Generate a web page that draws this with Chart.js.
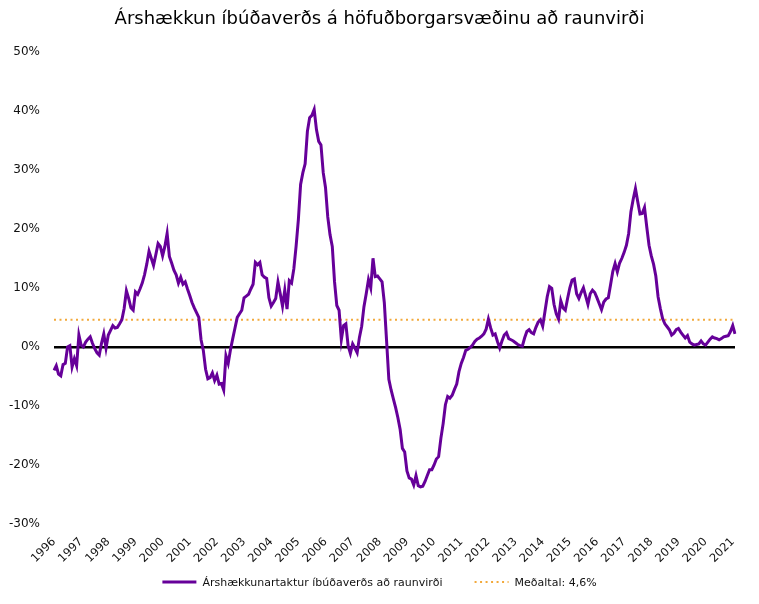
<!DOCTYPE html>
<html>
<head>
<meta charset="utf-8">
<script src="https://cdn.jsdelivr.net/npm/chart.js@4/dist/chart.umd.min.js"></script>
<style>
  html, body { margin: 0; padding: 0; background: #fff; }
  #wrap { width: 759px; height: 604px; }
</style>
</head>
<body>
<div id="wrap"><canvas id="chart"></canvas></div>
<script>
// Years shown on the x axis (one tick per January)
const years = ['1996','1997','1998','1999','2000','2001','2002','2003','2004','2005','2006','2007','2008',
  '2009','2010','2011','2012','2013','2014','2015','2016','2017','2018','2019','2020','2021'];

const growth = [
  -4.0, -3.2, -4.6, -4.9, -3.0, -2.8, 0.0, 0.2, -3.4, -2.0, -3.2, 2.0,        // 1996
  0.3, 0.0, 0.8, 1.3, 1.7, 0.6, -0.3, -1.0, -1.4, 0.6, 2.2, -0.2,             // 1997
  2.0, 2.8, 3.6, 3.2, 3.3, 3.9, 4.6, 6.5, 9.5, 8.2, 6.6, 6.2,                 // 1998
  9.3, 8.9, 9.8, 10.8, 12.2, 14.0, 16.2, 15.0, 13.8, 15.6, 17.5, 17.0,        // 1999
  15.4, 17.0, 19.2, 15.3, 14.2, 13.0, 12.2, 10.8, 11.8, 10.6, 11.0, 9.8,      // 2000
  8.7, 7.5, 6.6, 5.8, 5.0, 1.2, -0.6, -3.8, -5.4, -5.2, -4.4, -5.7,           // 2001
  -4.8, -6.3, -6.2, -7.3, -1.5, -2.8, -0.5, 1.4, 3.2, 5.0, 5.6, 6.2,          // 2002
  8.3, 8.6, 8.9, 9.8, 10.6, 14.3, 13.9, 14.3, 12.2, 11.8, 11.6, 8.3,          // 2003
  6.9, 7.5, 8.2, 11.0, 9.0, 6.9, 9.6, 6.4, 11.2, 10.8, 13.2, 17.0,            // 2004
  21.5, 27.5, 29.5, 31.0, 36.5, 38.8, 39.2, 40.2, 36.8, 34.8, 34.2, 29.5,     // 2005
  27.0, 22.0, 19.0, 17.0, 11.0, 7.0, 6.2, 1.2, 3.6, 3.9, 0.2, -1.1,           // 2006
  0.5, -0.2, -1.0, 1.6, 3.5, 6.8, 9.0, 11.4, 10.0, 15.0, 11.9, 12.0,          // 2007
  11.5, 11.0, 7.5, 1.0, -5.5, -7.3, -8.8, -10.3, -12.0, -14.0, -17.2, -17.8,  // 2008
  -21.0, -22.2, -22.4, -23.4, -21.8, -23.5, -23.7, -23.6, -22.8, -21.8, -20.8, -20.8, // 2009
  -20.0, -19.0, -18.6, -15.5, -13.0, -9.8, -8.4, -8.7, -8.2, -7.2, -6.3, -4.2, // 2010
  -2.8, -1.8, -0.6, -0.4, -0.1, 0.3, 0.9, 1.3, 1.5, 1.8, 2.2, 3.0,            // 2011
  4.7, 3.2, 2.0, 2.2, 0.9, -0.2, 1.0, 2.0, 2.4, 1.4, 1.2, 1.0,                // 2012
  0.7, 0.4, 0.2, 0.1, 1.5, 2.6, 2.9, 2.4, 2.2, 3.3, 4.2, 4.6,                 // 2013
  3.5, 6.0, 8.5, 10.2, 9.9, 7.2, 5.6, 4.7, 7.8, 6.6, 6.2, 8.2,                // 2014
  10.0, 11.3, 11.5, 9.0, 8.2, 9.2, 10.0, 8.6, 7.2, 9.0, 9.6, 9.2,             // 2015
  8.3, 7.3, 6.3, 7.6, 8.1, 8.3, 10.5, 12.8, 14.1, 12.7, 14.2, 15.0,           // 2016
  16.0, 17.2, 19.2, 22.9, 25.0, 26.8, 24.6, 22.5, 22.6, 23.6, 20.3, 17.2,     // 2017
  15.4, 14.0, 12.0, 8.5, 6.5, 4.8, 3.9, 3.4, 2.9, 2.0, 2.3, 2.9,              // 2018
  3.1, 2.5, 2.0, 1.5, 1.9, 0.8, 0.5, 0.3, 0.4, 0.5, 1.0, 0.5,                 // 2019
  0.3, 0.8, 1.3, 1.7, 1.5, 1.4, 1.2, 1.4, 1.7, 1.8, 1.9, 2.6,                 // 2020
  3.6, 2.2                                                                    // 2021
];

const meanValue = 4.6;
const yTicks = [-30, -20, -10, 0, 10, 20, 30, 40, 50];

// month labels, e.g. "1996-01"
const labels = [];
years.forEach(y => {
  for (let m = 1; m <= 12; m++) {
    if (labels.length < growth.length) labels.push(y + '-' + String(m).padStart(2, '0'));
  }
});
const meanLine = labels.map(() => meanValue);

const FONT = '"DejaVu Sans", Verdana, sans-serif';

// Legend drawn under the axis labels, one line sample + text per dataset
const bottomLegend = {
  id: 'bottomLegend',
  afterDraw(chart) {
    const ctx = chart.ctx;
    const y = 582, sample = 34, gapText = 6, gapItem = 32;
    ctx.save();
    ctx.font = '11px ' + FONT;
    ctx.textBaseline = 'middle';
    const items = chart.data.datasets.map(ds => ({ ds, w: ctx.measureText(ds.label).width }));
    const total = items.reduce((s, it) => s + sample + gapText + it.w, 0) + gapItem * (items.length - 1);
    let x = (chart.width - total) / 2;
    items.forEach(({ ds, w }) => {
      ctx.strokeStyle = ds.borderColor;
      ctx.lineWidth = ds.borderWidth;
      ctx.setLineDash(ds.borderDash || []);
      ctx.beginPath();
      ctx.moveTo(x, y);
      ctx.lineTo(x + sample, y);
      ctx.stroke();
      ctx.setLineDash([]);
      ctx.fillStyle = '#111';
      ctx.fillText(ds.label, x + sample + gapText, y + 1);
      x += sample + gapText + w + gapItem;
    });
    ctx.restore();
  }
};

new Chart(document.getElementById('chart'), {
  type: 'line',
  data: {
    labels: labels,
    datasets: [
      {
        label: 'Árshækkunartaktur íbúðaverðs að raunvirði',
        data: growth,
        borderColor: '#660099',
        backgroundColor: '#660099',
        borderWidth: 3,
        pointRadius: 0,
        tension: 0
      },
      {
        label: 'Meðaltal: 4,6%',
        data: meanLine,
        borderColor: '#F2A93B',
        backgroundColor: '#F2A93B',
        borderWidth: 2,
        borderDash: [2, 3.5],
        pointRadius: 0
      }
    ]
  },
  options: {
    responsive: true,
    maintainAspectRatio: false,
    animation: false,
    layout: { padding: { left: 4, right: 4, top: 4, bottom: 34 } },
    plugins: {
      title: {
        display: true,
        text: 'Árshækkun íbúðaverðs á höfuðborgarsvæðinu að raunvirði',
        color: '#000',
        font: { family: FONT, size: 18, weight: 'normal' },
        padding: { top: 5, bottom: 21 }
      },
      legend: { display: false },
      tooltip: { enabled: false }
    },
    scales: {
      x: {
        grid: { display: false },
        border: { display: false },
        afterFit: axis => { axis.height = 46; axis.paddingLeft = 0; axis.paddingRight = 24; },
        ticks: {
          autoSkip: false,
          maxRotation: 45,
          minRotation: 45,
          color: '#111',
          font: { family: FONT, size: 11.5 },
          callback: function (value) {
            const lab = this.getLabelForValue(value);
            return lab.endsWith('-01') ? lab.slice(0, 4) : null;
          }
        }
      },
      y: {
        min: yTicks[0],
        max: yTicks[yTicks.length - 1],
        afterBuildTicks: axis => { axis.ticks = yTicks.map(v => ({ value: v })); },
        afterFit: axis => { axis.width = 50; },
        border: { display: false },
        grid: {
          drawTicks: false,
          color: ctx => (ctx.tick && ctx.tick.value === 0 ? '#000' : 'rgba(0,0,0,0)'),
          lineWidth: 2.5
        },
        ticks: {
          color: '#111',
          padding: 14,
          font: { family: FONT, size: 12 },
          callback: v => v + '%'
        }
      }
    }
  },
  plugins: [bottomLegend]
});
</script>
</body>
</html>
